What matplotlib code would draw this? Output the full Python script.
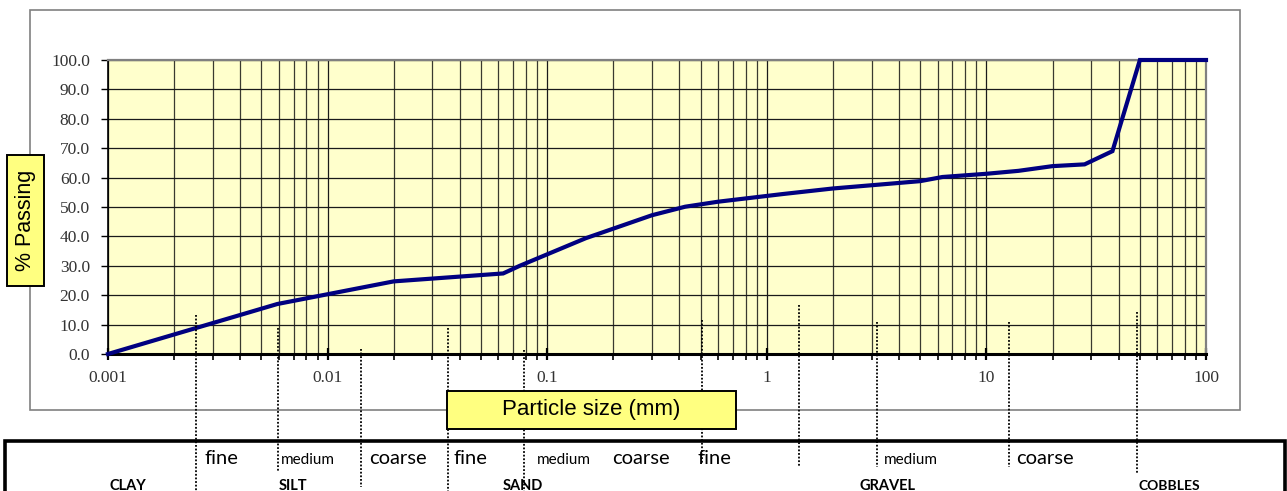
import matplotlib
matplotlib.use("Agg")
import matplotlib.pyplot as plt
from matplotlib.patches import Rectangle
from matplotlib.lines import Line2D
from matplotlib.transforms import blended_transform_factory
from matplotlib.ticker import FixedLocator, FixedFormatter, LogLocator, NullFormatter

# ---------------- data ----------------
particle_size_mm = [0.001, 0.0059, 0.02, 0.063, 0.075, 0.15, 0.3, 0.425, 0.6, 1.18,
                    2.0, 3.35, 5.0, 6.3, 10, 14, 20, 28, 37.5, 50, 63, 75, 100]
percent_passing = [0.0, 17.0, 24.7, 27.4, 30.0, 39.4, 47.2, 50.1, 51.8, 54.4,
                   56.3, 57.7, 58.8, 60.2, 61.3, 62.3, 63.9, 64.5, 69.0, 100, 100, 100, 100]

x_tick_values = [0.001, 0.01, 0.1, 1, 10, 100]
x_tick_labels = ["0.001", "0.01", "0.1", "1", "10", "100"]
y_tick_values = [0, 10, 20, 30, 40, 50, 60, 70, 80, 90, 100]
y_tick_labels = ["%.1f" % v for v in y_tick_values]

# classification boundaries as drawn (mm)
boundary_mm = [0.00252, 0.00595, 0.0142, 0.0354, 0.0785, 0.506, 1.396, 3.16, 12.7, 48.5]

sub_labels = ["fine", "medium", "coarse", "fine", "medium", "coarse", "fine", "medium", "coarse"]
main_labels = ["CLAY", "SILT", "SAND", "GRAVEL", "COBBLES"]

# ---------------- layout helpers (pixels) ----------------
W, H = 1287, 491
def fx(px):
    return px / W
def fy(py):
    return 1 - py / H

fig = plt.figure(figsize=(W / 100, H / 100), dpi=100)
fig.patch.set_facecolor("white")

# outer chart frame
fig.add_artist(Rectangle((fx(30), fy(410)), (1240 - 30) / W, (410 - 10) / H,
                         transform=fig.transFigure, facecolor="none",
                         edgecolor="#808080", lw=1.2, zorder=0))

ax = fig.add_axes([fx(108), fy(354), (1206 - 108) / W, (354 - 60) / H])
ax.set_facecolor("#FFFFCC")
ax.set_xscale("log")
ax.set_xlim(0.001, 100)
ax.set_ylim(0, 100)

# grid
ax.xaxis.set_major_locator(FixedLocator(x_tick_values))
ax.xaxis.set_major_formatter(FixedFormatter(x_tick_labels))
ax.xaxis.set_minor_locator(LogLocator(base=10, subs=range(2, 10), numticks=20))
ax.xaxis.set_minor_formatter(NullFormatter())
ax.yaxis.set_major_locator(FixedLocator(y_tick_values))
ax.yaxis.set_major_formatter(FixedFormatter(y_tick_labels))
ax.grid(True, which="major", axis="both", color="#1a1a1a", lw=0.9)
ax.grid(True, which="minor", axis="x", color="#3a3a30", lw=0.9)
ax.set_axisbelow(True)

for s in ("top", "right"):
    ax.spines[s].set_color("#808080")
    ax.spines[s].set_linewidth(1.6)
ax.spines["left"].set_color("black")
ax.spines["left"].set_linewidth(1.2)
ax.spines["bottom"].set_color("black")
ax.spines["bottom"].set_linewidth(2.2)

tick_font = dict(family="Liberation Serif", size=12.5)
ax.tick_params(axis="y", which="major", direction="out", length=5, width=1.0,
               pad=8, labelcolor="#333333", labelsize=12.5)
ax.tick_params(axis="x", which="major", direction="inout", length=9, width=1.6,
               pad=7, labelcolor="#333333", labelsize=12.5)
ax.tick_params(axis="x", which="minor", direction="out", length=4, width=1.2)
for lab in ax.get_xticklabels() + ax.get_yticklabels():
    lab.set_fontfamily("Liberation Serif")

# curve
ax.plot(particle_size_mm, percent_passing, color="#000080", lw=3.0,
        solid_joinstyle="miter", clip_on=False, zorder=5)

# dotted classification lines (x in data, y in figure)
trans = blended_transform_factory(ax.transData, fig.transFigure)
line_tops = [315, 328, 349, 328, 350, 320, 305, 322, 322, 312]
line_bottoms = [491, 472, 487, 491, 491, 463, 467, 467, 467, 473]
for b, t, bt in zip(boundary_mm, line_tops, line_bottoms):
    fig.add_artist(Line2D([b, b], [fy(t), fy(bt)], transform=trans, color="black",
                          lw=1.3, linestyle=(0, (1, 1)), zorder=6))

# classification table frame
fig.add_artist(Rectangle((fx(5), fy(500)), (1285 - 5) / W, (500 - 441) / H,
                         transform=fig.transFigure, facecolor="none",
                         edgecolor="black", lw=2.6, zorder=3))

sub_x = [221, 308, 398, 470, 564, 641, 714, 911, 1045]
for lab, px in zip(sub_labels, sub_x):
    size = 11 if lab == "medium" else 14.5
    fig.text(fx(px), fy(464), lab, ha="center", va="baseline",
             fontsize=size, family="Lato", color="black", zorder=7)

main_x = [128, 293, 523, 888, 1169]
for lab, px in zip(main_labels, main_x):
    size = 10 if lab == "COBBLES" else 10.5
    fig.text(fx(px), fy(490), lab, ha="center", va="baseline",
             fontsize=size, family="Lato", fontweight="bold", color="black", zorder=7)

# axis title boxes
fig.add_artist(Rectangle((fx(7), fy(286)), (44 - 7) / W, (286 - 155) / H,
                         transform=fig.transFigure, facecolor="#FFFF80",
                         edgecolor="black", lw=1.4, zorder=8))
fig.text(fx(25.5), fy(220.5), "% Passing", rotation=90, ha="center", va="center",
         fontsize=15.5, family="Liberation Sans", color="black", zorder=9)

fig.add_artist(Rectangle((fx(447), fy(429)), (736 - 447) / W, (429 - 391) / H,
                         transform=fig.transFigure, facecolor="#FFFF80",
                         edgecolor="black", lw=1.4, zorder=8))
fig.text(fx(591.5), fy(410), "Particle size (mm)", ha="center", va="center",
         fontsize=16, family="Liberation Sans", color="black", zorder=9)

fig.savefig("out.png", dpi=100)
